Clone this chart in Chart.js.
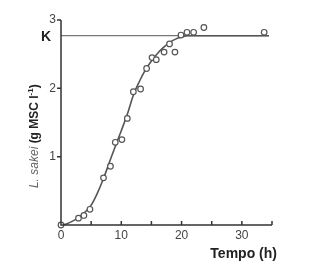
<!DOCTYPE html>
<html>
<head>
<meta charset="utf-8">
<script src="https://cdn.jsdelivr.net/npm/chart.js@4/dist/chart.umd.min.js"></script>
<style>
  html, body { margin: 0; padding: 0; background: #fff; }
  canvas { display: block; }
</style>
</head>
<body>
<canvas id="growth" width="335" height="263"></canvas>
<script>
'use strict';

// measured biomass (g MSC l-1) vs time (h)
const obsTime  = [0, 2.9, 3.8, 4.8, 7.05, 8.2, 9.0, 10.1, 11.0, 12.0, 13.2, 14.2, 15.1, 15.8, 17.1, 18.0, 18.9, 19.9, 20.9, 22.0, 23.7, 33.7];
const obsValue = [0, 0.10, 0.14, 0.23, 0.69, 0.86, 1.21, 1.25, 1.56, 1.95, 1.99, 2.29, 2.45, 2.42, 2.53, 2.65, 2.53, 2.78, 2.82, 2.82, 2.89, 2.82];

// fitted growth curve
const fitTime  = [0, 1, 2, 3, 4, 5, 6, 7, 8, 9, 10, 11, 12, 13, 14, 15, 16, 17, 18, 19, 20, 21, 22, 34.5];
const fitValue = [0, 0.02, 0.06, 0.12, 0.19, 0.29, 0.46, 0.67, 0.91, 1.15, 1.38, 1.62, 1.9, 2.1, 2.27, 2.4, 2.51, 2.6, 2.67, 2.72, 2.75, 2.77, 2.77, 2.77];

// carrying capacity K
const kValue = 2.77;
const kSpan  = [0, 34.5];

const xTicks = [0, 10, 20, 30];
const xMinorTicks = [5, 15, 25, 35];
const yTicks = [1, 2, 3];

const toXY = (xs, ys) => xs.map((x, i) => ({ x, y: ys[i] }));

const INK = '#333';
const FONT = '"Liberation Sans", Arial, sans-serif';

// axes, ticks and titles drawn by hand to mimic the figure
const axesPlugin = {
  id: 'axesPlugin',
  afterDraw(chart) {
    const { ctx } = chart;
    const xs = chart.scales.x, ys = chart.scales.y;
    const x0 = xs.getPixelForValue(0), x1 = xs.getPixelForValue(35);
    const y0 = ys.getPixelForValue(0), y1 = ys.getPixelForValue(3);

    ctx.save();
    ctx.strokeStyle = INK;
    ctx.lineWidth = 1.5;
    ctx.beginPath();
    ctx.moveTo(x0, y1);
    ctx.lineTo(x0, y0);
    ctx.lineTo(x1, y0);
    ctx.stroke();

    // y ticks, pointing out
    ctx.beginPath();
    yTicks.forEach(v => {
      const y = ys.getPixelForValue(v);
      ctx.moveTo(x0 - 4, y);
      ctx.lineTo(x0, y);
    });
    // x ticks, pointing in
    xTicks.concat(xMinorTicks).forEach(v => {
      if (v === 0) return;
      const x = xs.getPixelForValue(v);
      ctx.moveTo(x, y0);
      ctx.lineTo(x, y0 - 4);
    });
    ctx.stroke();

    ctx.fillStyle = '#444';
    ctx.font = '12px ' + FONT;
    ctx.textAlign = 'right';
    ctx.textBaseline = 'middle';
    yTicks.forEach(v => ctx.fillText(String(v), x0 - 5, ys.getPixelForValue(v)));

    ctx.textAlign = 'center';
    ctx.textBaseline = 'top';
    xTicks.forEach(v => ctx.fillText(String(v), xs.getPixelForValue(v), y0 + 5));

    // K label
    ctx.fillStyle = '#222';
    ctx.font = 'bold 14px ' + FONT;
    ctx.textAlign = 'right';
    ctx.textBaseline = 'middle';
    ctx.fillText('K', x0 - 10, ys.getPixelForValue(kValue) + 1);

    // x title
    ctx.font = 'bold 14px ' + FONT;
    ctx.textAlign = 'center';
    ctx.textBaseline = 'middle';
    ctx.fillText('Tempo (h)', xs.getPixelForValue(30.3), y0 + 29);

    // y title: italic species name + bold unit
    ctx.translate(35, ys.getPixelForValue(1.3));
    ctx.rotate(-Math.PI / 2);
    const part1 = 'L. sakei ';
    const part2 = '(g MSC l';
    const part3 = '-1';
    const part4 = ')';
    ctx.font = 'italic 12px ' + FONT;
    const w1 = ctx.measureText(part1).width;
    ctx.font = 'bold 12px ' + FONT;
    const w2 = ctx.measureText(part2).width;
    const w4 = ctx.measureText(part4).width;
    ctx.font = 'bold 8px ' + FONT;
    const w3 = ctx.measureText(part3).width;
    let cx = -(w1 + w2 + w3 + w4) / 2;
    ctx.textAlign = 'left';
    ctx.font = 'italic 12px ' + FONT;
    ctx.fillStyle = '#666';
    ctx.fillText(part1, cx, 0);
    cx += w1;
    ctx.fillStyle = '#222';
    ctx.font = 'bold 12px ' + FONT;
    ctx.fillText(part2, cx, 0);
    cx += w2;
    ctx.font = 'bold 8px ' + FONT;
    ctx.fillText(part3, cx, -4);
    cx += w3;
    ctx.font = 'bold 12px ' + FONT;
    ctx.fillText(part4, cx, 0);
    ctx.restore();
  }
};

new Chart(document.getElementById('growth'), {
  type: 'scatter',
  data: {
    datasets: [
      {
        label: 'K',
        data: kSpan.map(x => ({ x, y: kValue })),
        showLine: true,
        borderColor: '#555',
        borderWidth: 1,
        pointRadius: 0,
        clip: false,
        order: 3
      },
      {
        label: 'fit',
        data: toXY(fitTime, fitValue),
        showLine: true,
        borderColor: '#555',
        borderWidth: 1.6,
        cubicInterpolationMode: 'monotone',
        pointRadius: 0,
        clip: false,
        order: 2
      },
      {
        label: 'observed',
        data: toXY(obsTime, obsValue),
        pointRadius: 2.8,
        pointBorderWidth: 1.2,
        pointBorderColor: '#555',
        pointBackgroundColor: '#fff',
        clip: false,
        order: 1
      }
    ]
  },
  options: {
    responsive: false,
    animation: false,
    layout: { padding: { left: 61, right: 63, top: 20, bottom: 38 } },
    plugins: { legend: { display: false }, tooltip: { enabled: false } },
    scales: {
      x: { type: 'linear', min: 0, max: 35, display: false },
      y: { type: 'linear', min: 0, max: 3, display: false }
    }
  },
  plugins: [axesPlugin]
});
</script>
</body>
</html>
